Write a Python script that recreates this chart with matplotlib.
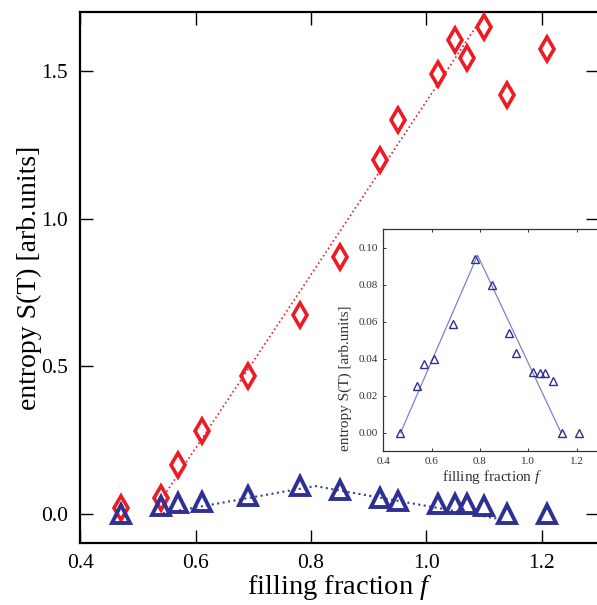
import matplotlib
matplotlib.use("Agg")
import matplotlib.pyplot as plt
import numpy as np

plt.rcParams['font.family'] = ['Liberation Serif', 'DejaVu Serif']
plt.rcParams['mathtext.fontset'] = 'custom'
plt.rcParams['mathtext.rm'] = 'Liberation Serif'
plt.rcParams['mathtext.it'] = 'Liberation Serif:italic'

# filling fractions (same for both series)
filling = [0.47, 0.54, 0.57, 0.61, 0.69, 0.78, 0.85, 0.92, 0.95, 1.02, 1.05, 1.07, 1.10, 1.14, 1.21]
# red diamonds, main panel
entropy_red = [0.02, 0.054, 0.167, 0.279, 0.466, 0.673, 0.870, 1.20, 1.334, 1.491, 1.606, 1.545, 1.649, 1.420, 1.574]
# blue triangles
entropy_blue = [0.0, 0.025, 0.037, 0.040, 0.059, 0.094, 0.080, 0.054, 0.043, 0.033, 0.032, 0.032, 0.028, 0.0, 0.0]

# guide lines
red_line_x = [0.524, 1.101]
red_line_y = [0.0, 1.695]
blue_line_x = [0.524, 0.807, 1.122]
blue_line_y = [-0.005, 0.094, -0.016]
inset_line_x = [0.472, 0.79, 1.135]
inset_line_y = [0.0, 0.096, 0.0]

red = '#ed1c24'
navy = '#2e3192'

fig = plt.figure(figsize=(5.97, 6.05), dpi=100)
ax = fig.add_axes([0.1347, 0.102, 0.8693, 0.8777])

ax.plot(red_line_x, red_line_y, ':', color=red, lw=1.2, zorder=1)
ax.plot(blue_line_x, blue_line_y, ':', color='#3b3f9e', lw=1.5, zorder=1)
ax.plot(filling, entropy_red, 'd', ms=12.5, mfc='none', mec=red, mew=2.6, zorder=3)
ax.plot(filling, entropy_blue, '^', ms=13, mfc='none', mec=navy, mew=2.8, zorder=3)

ax.set_xlim(0.4, 1.3)
ax.set_ylim(-0.1, 1.7)
ax.set_xticks([0.4, 0.6, 0.8, 1.0, 1.2])
ax.set_xticklabels(['0.4', '0.6', '0.8', '1.0', '1.2'])
ax.set_yticks([0.0, 0.5, 1.0, 1.5])
ax.set_yticklabels(['0.0', '0.5', '1.0', '1.5'])
ax.tick_params(direction='in', length=9.5, width=1.0, labelsize=15.5,
               top=True, right=True, pad=8)
ax.tick_params(axis='y', pad=9)
for s in ax.spines.values():
    s.set_linewidth(1.6)
ax.set_xlabel('filling fraction $f$', fontsize=20.5, labelpad=0)
ax.set_ylabel('entropy S(T) [arb.units]', fontsize=20, labelpad=-1)

# inset
axi = fig.add_axes([0.642, 0.2545, 0.3645, 0.3664])
axi.plot(inset_line_x, inset_line_y, '-', color='#7f82c9', lw=0.9, zorder=1)
axi.plot(filling, entropy_blue, '^', ms=5.5, mfc='none', mec=navy, mew=1.0, zorder=3)
axi.set_xlim(0.4, 1.3)
axi.set_ylim(-0.01, 0.11)
axi.set_xticks([0.4, 0.6, 0.8, 1.0, 1.2])
axi.set_xticklabels(['0.4', '0.6', '0.8', '1.0', '1.2'])
axi.set_yticks([0.0, 0.02, 0.04, 0.06, 0.08, 0.10])
axi.set_yticklabels(['0.00', '0.02', '0.04', '0.06', '0.08', '0.10'])
axi.tick_params(direction='in', length=2.5, width=0.7, labelsize=8,
                top=True, right=True, pad=4, colors='#333333')
for s in axi.spines.values():
    s.set_linewidth(0.9)
    s.set_color('#333333')
axi.set_xlabel('filling fraction $f$', fontsize=11, labelpad=2, color='#333333')
axi.set_ylabel('entropy S(T) [arb.units]', fontsize=11, color='#333333')
axi.yaxis.set_label_coords(-0.145, 0.33)

fig.savefig('out.png', dpi=100)
